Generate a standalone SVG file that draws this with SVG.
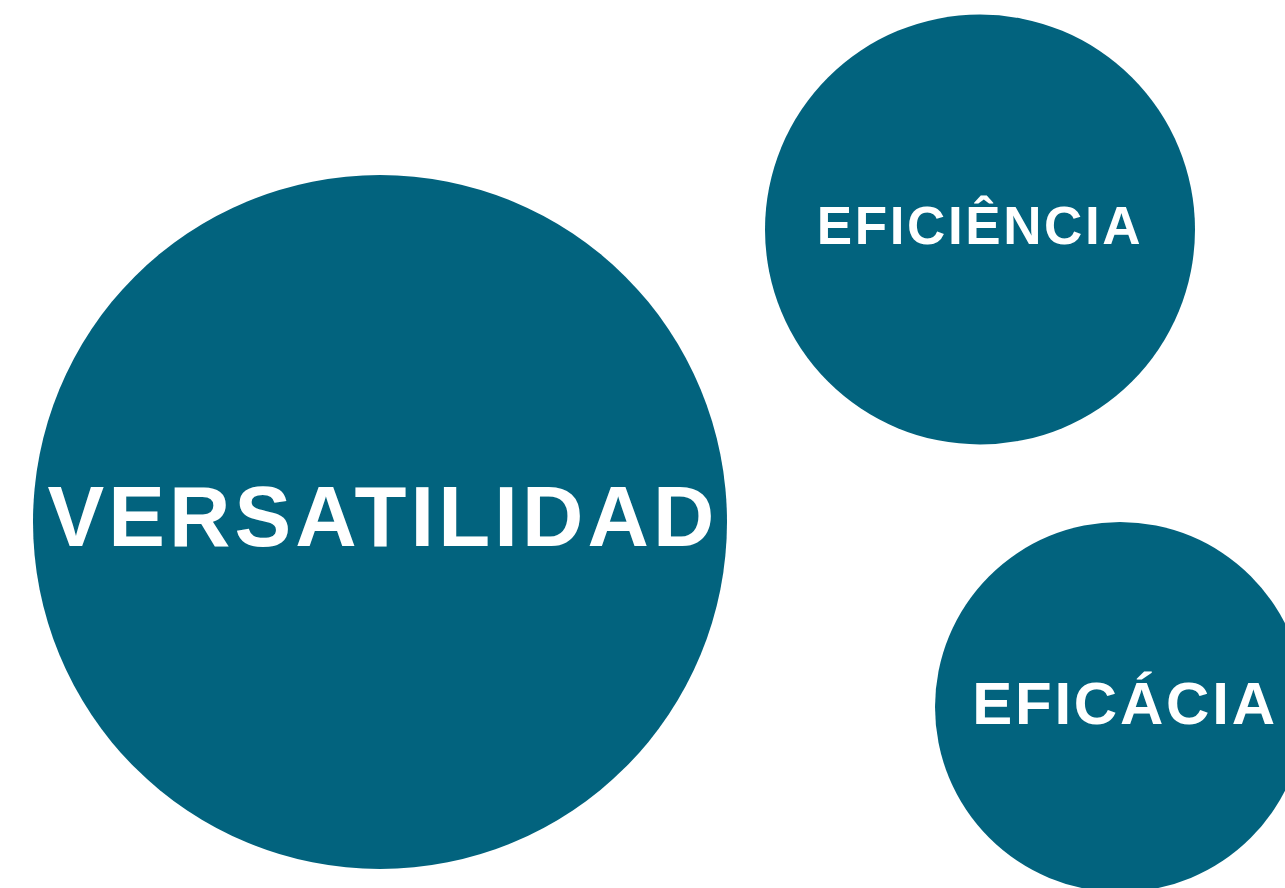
<svg xmlns="http://www.w3.org/2000/svg" width="1285" height="888" viewBox="0 0 1285 888">
<style>
.c{fill:#02637E}
.t{fill:#fff;font-family:"Liberation Sans",Arial,sans-serif;font-weight:bold;text-anchor:middle}
</style>
<rect width="1285" height="888" fill="#fff"/>
<g id="versatilidad">
<ellipse class="c" cx="380" cy="522" rx="347" ry="347"/>
<text class="t" x="383" y="546" font-size="85" letter-spacing="4.1">VERSATILIDAD</text>
</g>
<g id="eficiencia">
<circle class="c" cx="980" cy="229.5" r="215"/>
<text class="t" x="980" y="244" font-size="53" letter-spacing="2.6">EFICIÊNCIA</text>
</g>
<g id="eficacia">
<circle class="c" cx="1120" cy="707" r="185"/>
<text class="t" x="1125" y="724" font-size="60" letter-spacing="2.8">EFICÁCIA</text>
</g>
<g id="connectors"></g>
</svg>
